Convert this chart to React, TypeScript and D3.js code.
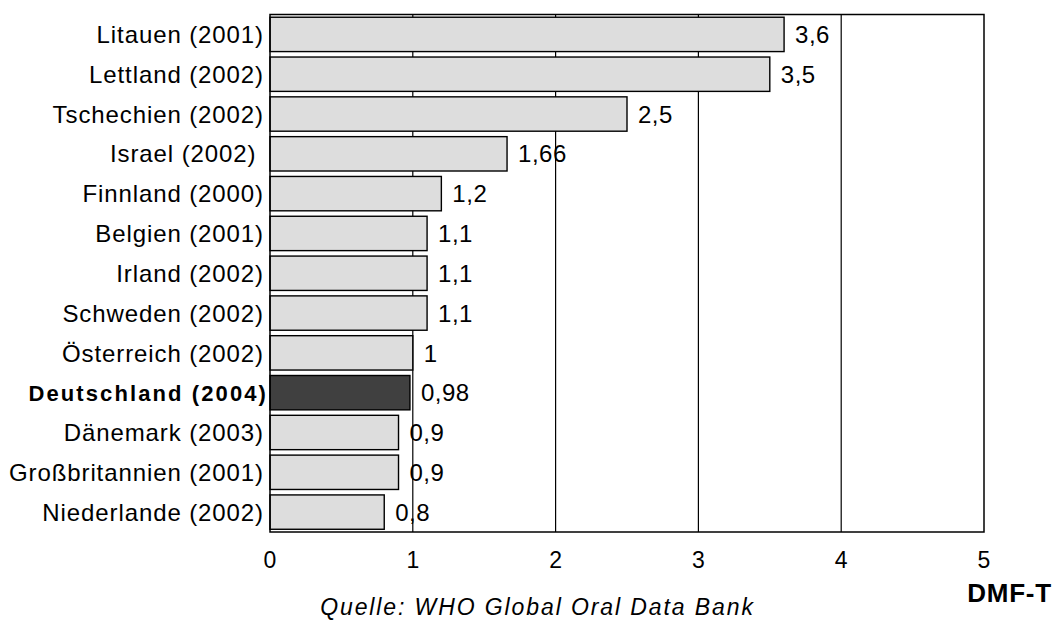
import React from "react";
import * as d3 from "d3";

const categories = [
  "Litauen (2001)",
  "Lettland (2002)",
  "Tschechien (2002)",
  "Israel (2002) ",
  "Finnland (2000)",
  "Belgien (2001)",
  "Irland (2002)",
  "Schweden (2002)",
  "Österreich (2002)",
  "Deutschland (2004)",
  "Dänemark (2003)",
  "Großbritannien (2001)",
  "Niederlande (2002)",
];
const values = [3.6, 3.5, 2.5, 1.66, 1.2, 1.1, 1.1, 1.1, 1, 0.98, 0.9, 0.9, 0.8];
const valueLabels = ["3,6", "3,5", "2,5", "1,66", "1,2", "1,1", "1,1", "1,1", "1", "0,98", "0,9", "0,9", "0,8"];
const highlight = "Deutschland (2004)";
const xTicks = [0, 1, 2, 3, 4, 5];
const axisTitle = "DMF-T";
const sourceText = "Quelle: WHO Global Oral Data Bank";

export default function App() {
  const W = 1057, H = 622;
  const left = 270, right = 984, top = 14.5, bottom = 532;
  const x = d3.scaleLinear().domain([0, 5]).range([left, right]);
  const y = d3.scaleBand<string>().domain(categories).range([top, bottom]).paddingInner(0.137).paddingOuter(0.0685);
  const font = "'Liberation Sans', Arial, sans-serif";
  return (
    <svg width={W} height={H} style={{ position: "absolute", left: 0, top: 0 }} fontFamily={font}>
      <rect x={0} y={0} width={W} height={H} fill="#fff" />
      {categories.map((c, i) => (
        <text key={"v" + c} x={x(values[i]) + 11} y={y(c)! + y.bandwidth() / 2} dy="0.36em"
          fontSize={24} letterSpacing={0.5} fill="#000">{valueLabels[i]}</text>
      ))}
      {xTicks.slice(1, -1).map((t) => (
        <line key={t} x1={x(t)} x2={x(t)} y1={top} y2={bottom} stroke="#000" strokeWidth={1.2} />
      ))}
      {categories.map((c, i) => (
        <rect key={c} x={x(0)} y={y(c)!} width={x(values[i]) - x(0)} height={y.bandwidth()}
          fill={c === highlight ? "#404040" : "#dddddd"} stroke="#000" strokeWidth={1.4} />
      ))}
      <rect x={left} y={top} width={right - left} height={bottom - top} fill="none" stroke="#000" strokeWidth={1.5} />
      {categories.map((c) => (
        <text key={"l" + c} x={c === highlight ? 268 : 264} y={y(c)! + y.bandwidth() / 2} dy="0.36em"
          textAnchor="end" fontSize={c === highlight ? 22 : 24} fontWeight={c === highlight ? "bold" : "normal"}
          letterSpacing={c === highlight ? 2.1 : 0.9} style={{ whiteSpace: "pre" }} fill="#000">{c}</text>
      ))}
      {xTicks.map((t) => (
        <text key={"t" + t} x={x(t)} y={568} textAnchor="middle" fontSize={23} fill="#000">{String(t)}</text>
      ))}
      <text x={1052} y={602} textAnchor="end" fontSize={26} fontWeight="bold" letterSpacing={0.8} fill="#000">{axisTitle}</text>
      <text x={537.5} y={615} textAnchor="middle" fontSize={23} fontStyle="italic" letterSpacing={1.9} fill="#000">{sourceText}</text>
    </svg>
  );
}
